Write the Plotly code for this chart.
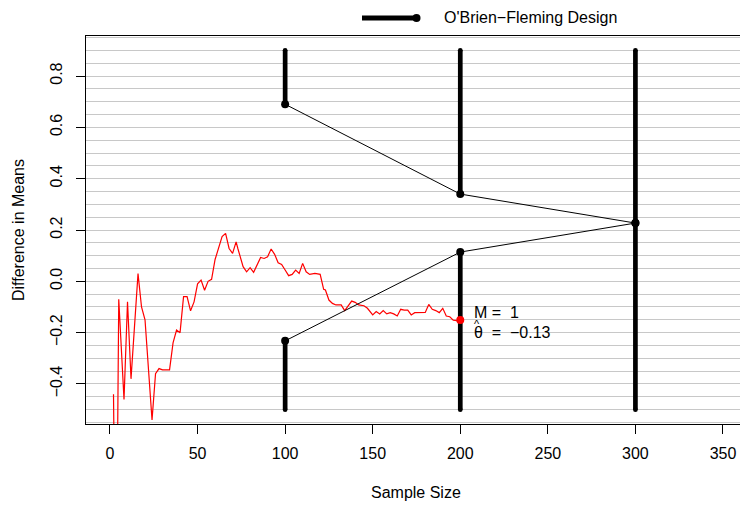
import plotly.graph_objects as go

# ---------------- data ----------------
looks = [100, 200, 300]
upper_bound = [0.69, 0.34, 0.227]
lower_bound = [-0.232, 0.114, 0.227]
bar_top = 0.9
bar_bottom = -0.5

n_obs = [2, 3, 4, 5, 8, 10, 12, 16, 18, 20, 24, 26, 28, 30, 34, 36, 38, 40, 42, 44,
         46, 48, 50, 52, 54, 56, 58, 60, 62, 64, 66, 68, 70, 72, 73, 76, 78, 80, 82, 84,
         86, 88, 90, 92, 94, 96, 98, 100, 102, 104, 106, 108, 110, 112, 114, 117, 120, 122, 123, 125,
         127, 129, 132, 134, 136, 138, 140, 142, 145, 147, 150, 152, 154, 156, 158, 160, 162, 164, 166, 168,
         170, 172, 174, 177, 180, 182, 184, 186, 188, 190, 192, 194, 196, 198, 200]
diff_means = [-0.44, -1.1, -0.9, -0.07, -0.46, -0.08, -0.38, 0.03, -0.10, -0.15, -0.54, -0.36, -0.34, -0.345, -0.345, -0.24, -0.19, -0.20, -0.06, -0.06,
              -0.115, -0.08, -0.01, 0.005, -0.035, 0.0, 0.008, 0.085, 0.128, 0.174, 0.187, 0.128, 0.109, 0.154, 0.128, 0.057, 0.037, 0.053, 0.035, 0.063,
              0.093, 0.089, 0.096, 0.126, 0.105, 0.072, 0.066, 0.044, 0.022, 0.027, 0.044, 0.031, 0.07, 0.037, 0.027, 0.031, 0.027, -0.031, -0.034, -0.073,
              -0.086, -0.092, -0.092, -0.114, -0.095, -0.077, -0.082, -0.092, -0.095, -0.105, -0.131, -0.118, -0.127, -0.114, -0.127, -0.122, -0.127, -0.135, -0.109, -0.112,
              -0.112, -0.131, -0.122, -0.122, -0.121, -0.090, -0.109, -0.114, -0.122, -0.105, -0.135, -0.138, -0.151, -0.153, -0.151]

M_text = "M =  1"
theta_text = "θ  =  −0.13"
hat_text = "^"
legend_text = "O'Brien−Fleming Design"
x_title = "Sample Size"
y_title = "Difference in Means"
x_ticks = [0, 50, 100, 150, 200, 250, 300, 350]
y_ticks = [-0.4, -0.2, 0.0, 0.2, 0.4, 0.6, 0.8]

# ---------------- layout geometry ----------------
W, H = 740, 506
L, R, T, B = 86, 0, 36, 82
PW, PH = W - L - R, H - T - B
XR = [-13.70, 359.71]
YR = [-0.556, 0.956]

def px_x(px):
    return XR[0] + (px - L) / PW * (XR[1] - XR[0])

def py_y(py):
    return YR[1] - (py - T) / PH * (YR[1] - YR[0])

def pap_x(px):
    return (px - L) / PW

def pap_y(py):
    return (H - B - py) / PH

FONT = "Liberation Sans, Arial, sans-serif"
FS = 16

fig = go.Figure()

# red sequential estimate
fig.add_trace(go.Scatter(x=n_obs, y=diff_means, mode="lines",
                         line=dict(color="#FF0000", width=1.2), hoverinfo="skip"))

# thin boundary lines
fig.add_trace(go.Scatter(x=looks, y=upper_bound, mode="lines",
                         line=dict(color="black", width=1)))
fig.add_trace(go.Scatter(x=looks, y=lower_bound, mode="lines",
                         line=dict(color="black", width=1)))

# thick rejection regions
bx, by = [], []
for lk, up, lo in zip(looks, upper_bound, lower_bound):
    bx += [lk, lk, None, lk, lk, None]
    by += [bar_top, up, None, lo, bar_bottom, None]
fig.add_trace(go.Scatter(x=bx, y=by, mode="lines",
                         line=dict(color="black", width=4.7)))
# round-ish caps
capx, capy = [], []
for lk, up, lo in zip(looks, upper_bound, lower_bound):
    capx += [lk, lk]
    capy += [bar_top, bar_bottom]
fig.add_trace(go.Scatter(x=capx, y=capy, mode="markers",
                         marker=dict(color="black", size=4.7, line=dict(width=0))))

# boundary points
fig.add_trace(go.Scatter(x=looks + looks, y=upper_bound + lower_bound, mode="markers",
                         marker=dict(color="black", size=8, line=dict(width=0))))

# final estimate point
fig.add_trace(go.Scatter(x=[n_obs[-1]], y=[diff_means[-1]], mode="markers",
                         marker=dict(color="#FF0000", size=8, line=dict(width=0))))

annotations = [
    dict(text=M_text, x=px_x(472), y=py_y(312.5), xref="x", yref="y",
         xanchor="left", yanchor="middle", showarrow=False,
         font=dict(family=FONT, size=FS, color="black")),
    dict(text=theta_text, x=px_x(472), y=py_y(332.7), xref="x", yref="y",
         xanchor="left", yanchor="middle", showarrow=False,
         font=dict(family=FONT, size=FS, color="black")),
    dict(text=hat_text, x=px_x(477), y=py_y(323.5), xref="x", yref="y",
         xanchor="center", yanchor="middle", showarrow=False,
         font=dict(family=FONT, size=11, color="black")),
    dict(text=legend_text, x=pap_x(442), y=pap_y(18), xref="paper", yref="paper",
         xanchor="left", yanchor="middle", showarrow=False,
         font=dict(family=FONT, size=FS, color="black")),
    dict(text=x_title, x=175, y=pap_y(492), xref="x", yref="paper",
         xanchor="center", yanchor="middle", showarrow=False,
         font=dict(family=FONT, size=FS, color="black")),
    dict(text=y_title, x=pap_x(18), y=0.2, xref="paper", yref="y",
         xanchor="center", yanchor="middle", showarrow=False, textangle=-90,
         font=dict(family=FONT, size=FS, color="black")),
]

shapes = [
    dict(type="line", xref="paper", yref="paper", x0=pap_x(362), x1=pap_x(416),
         y0=pap_y(18), y1=pap_y(18), line=dict(color="black", width=5)),
    dict(type="circle", xref="paper", yref="paper", x0=pap_x(412.5), x1=pap_x(420.5),
         y0=pap_y(22), y1=pap_y(14), fillcolor="black", line=dict(width=0)),
]

fig.update_layout(
    width=W, height=H, margin=dict(l=L, r=R, t=T, b=B, pad=0),
    paper_bgcolor="white", plot_bgcolor="white", showlegend=False,
    font=dict(family=FONT, size=FS, color="black"),
    annotations=annotations, shapes=shapes,
    xaxis=dict(range=XR, tickvals=x_ticks, showgrid=False, zeroline=False,
               showline=True, mirror=True, linecolor="black", linewidth=1,
               ticks="outside", ticklen=9, tickwidth=1, tickcolor="black",
               ticklabelstandoff=6, tickfont=dict(family=FONT, size=FS)),
    yaxis=dict(range=YR, tickvals=y_ticks, tickformat=".1f", showgrid=True,
               gridcolor="#C8C8C8", gridwidth=1, zeroline=False,
               showline=True, mirror=False, linecolor="black", linewidth=1,
               ticks="outside", ticklen=9, tickwidth=1, tickcolor="black",
               tickangle=-90, ticklabelstandoff=8, tickfont=dict(family=FONT, size=FS),
               minor=dict(dtick=0.05, tick0=0, showgrid=True, gridcolor="#C8C8C8",
                          gridwidth=1, ticks="")),
)

fig.write_html("out.html")
